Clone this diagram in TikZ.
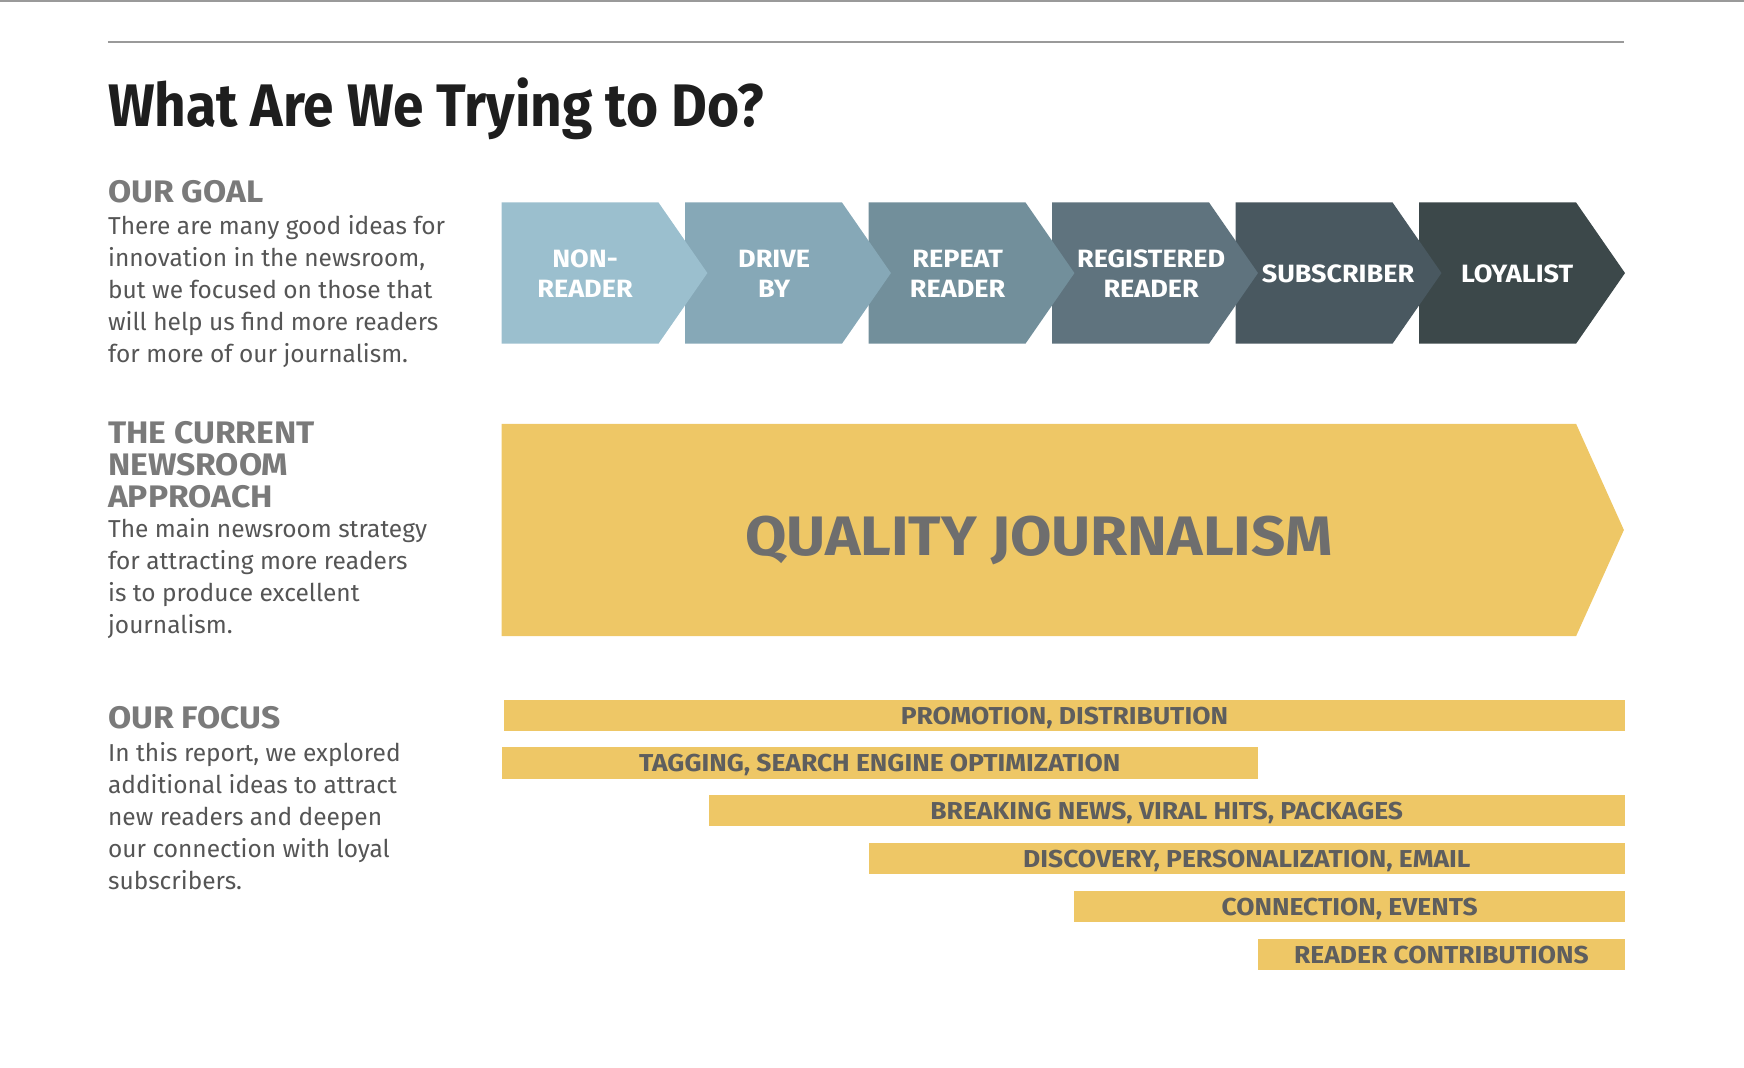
\documentclass[tikz,border=0pt]{standalone}
\usepackage{fontspec}
\usepackage{xcolor}
\usepackage{tikz}
\setmainfont{Fira Sans}
\newfontfamily\condfont[FakeStretch=0.916]{Fira Sans}
\newfontfamily\widefont[FakeStretch=1.08]{Fira Sans}

\definecolor{titleink}{HTML}{1E1E1E}
\definecolor{headink}{HTML}{7A7A7A}
\definecolor{bodyink}{HTML}{555555}
\definecolor{ruleink}{HTML}{9A9A9A}
\definecolor{gold}{HTML}{EEC766}
\definecolor{goldink}{HTML}{5E5E5E}
\definecolor{stageA}{HTML}{9BBFCE}
\definecolor{stageB}{HTML}{86A8B7}
\definecolor{stageC}{HTML}{728F9B}
\definecolor{stageD}{HTML}{5F737E}
\definecolor{stageE}{HTML}{495860}
\definecolor{stageF}{HTML}{3C484A}

\begin{document}
\begin{tikzpicture}
    [x=1pt,y=-1pt,
    heading/.style={anchor=base west,inner sep=0pt,text=headink,font=\widefont\bfseries\fontsize{28}{28.7}\selectfont,align=left},
    body/.style={anchor=base west,inner sep=0pt,text=bodyink,font=\fontsize{22}{28.8}\selectfont,align=left},
    stagelabel/.style={inner sep=0pt,text=white,font=\widefont\bfseries\fontsize{22.5}{26.5}\selectfont,align=center},
    focusbar/.style={fill=gold,inner sep=0pt,minimum height=28pt,text height=16pt,text depth=0pt,text=goldink,font=\widefont\bfseries\fontsize{22}{24}\selectfont}]

\useasboundingbox (0,0) rectangle (1568,960);

%rules at the top
\draw[ruleink,line width=1.5pt] (0,0.75) -- (1568,0.75);
\draw[ruleink,line width=1.5pt] (97,38) -- (1460,38);

%title
\node (title) [anchor=base west,inner sep=0pt,text=titleink,font=\condfont\bfseries\fontsize{54}{60}\selectfont] at (97,114) {What Are We Trying to Do?};

%left column (base is the last line)
\node (goalhead) [heading] at (97,182) {OUR GOAL};
\node (goaltext) [body] at (97,326) {There are many good ideas for\\innovation in the newsroom,\\but we focused on those that\\will help us find more readers\\for more of our journalism.};

\node (approachhead) [heading] at (97,456) {THE CURRENT\\NEWSROOM\\APPROACH};
\node (approachtext) [body] at (97,570) {The main newsroom strategy\\for attracting more readers\\is to produce excellent\\journalism.};

\node (focushead) [heading] at (97,655) {OUR FOCUS};
\node (focustext) [body] at (97,800) {In this report, we explored\\additional ideas to attract\\new readers and deepen\\our connection with loyal\\subscribers.};

%reader stages, drawn right to left so each tip lies on the next one
\foreach \n/\col/\dx/\lab in {6/stageF/88/LOYALIST,5/stageE/92/SUBSCRIBER,4/stageD/89/{REGISTERED\\READER},3/stageC/80/{REPEAT\\READER},2/stageB/80/{DRIVE\\BY},1/stageA/75/{NON-\\READER}}
{
    \pgfmathsetmacro\xo{451+165*(\n-1)}
    \fill[\col] (\xo,182) -- ++(141,0) -- ++(44,63.5) -- ++(-44,63.5) -- ++(-141,0) -- cycle;
    \node (stage\n) [stagelabel] at (\xo+\dx,246) {\lab};
}

%quality journalism
\fill[gold] (451,381) -- (1417,381) -- (1460,476.5) -- (1417,572) -- (451,572) -- cycle;
\node (quality) [anchor=base,inner sep=0pt,text=goldink!90!white,font=\widefont\bfseries\fontsize{50}{56}\selectfont] at (934,499) {QUALITY JOURNALISM};

%focus bars
\foreach \xa/\xb/\ya/\lab [count=\n] in {453/1461/628/{PROMOTION, DISTRIBUTION},451/1131/671/{TAGGING, SEARCH ENGINE OPTIMIZATION},637/1461/714/{BREAKING NEWS, VIRAL HITS, PACKAGES},781/1461/757/{DISCOVERY, PERSONALIZATION, EMAIL},966/1461/800/{CONNECTION, EVENTS},1131/1461/843/{READER CONTRIBUTIONS}}
{
    \node (bar\n) [focusbar,minimum width={\xb pt-\xa pt}] at ({(\xa+\xb)/2},\ya+15) {\lab};
}

\end{tikzpicture}
\end{document}
